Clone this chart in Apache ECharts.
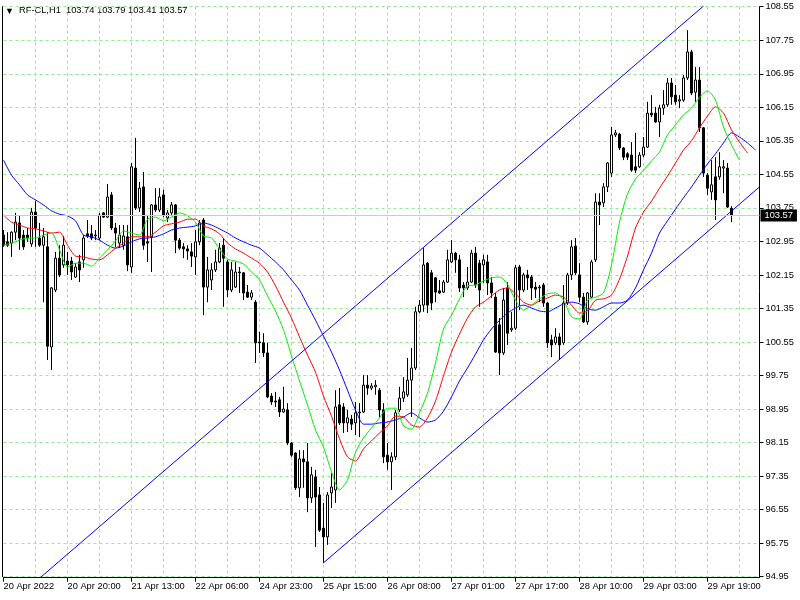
<!DOCTYPE html>
<html><head><meta charset="utf-8">
<script src="https://cdn.jsdelivr.net/npm/echarts@6/dist/echarts.min.js"></script>
<style>html,body{margin:0;padding:0;background:#fff}#c{width:800px;height:600px}</style>
</head><body><div id="c"></div>
<script>
const symbol = 'RF-CL,H1';
const tickLabels = ['20 Apr 2022','20 Apr 20:00','21 Apr 13:00','22 Apr 06:00','24 Apr 23:00','25 Apr 15:00','26 Apr 08:00','27 Apr 01:00','27 Apr 17:00','28 Apr 10:00','29 Apr 03:00','29 Apr 19:00'];
const labelEvery = 16;
const gridEvery = 8;
const barSlots = 190;
const priceMin = 94.95, priceMax = 108.55, priceStep = 0.8;

// hourly candles: [open, close, low, high]
const ohlc = [
[103.10,102.86,102.82,103.22],[102.94,102.86,102.82,103.17],[102.91,103.17,102.58,103.19],[103.17,103.41,102.98,103.63],
[103.39,103.03,102.75,103.58],[103.10,102.82,102.75,103.22],[103.10,103.03,102.94,103.27],[102.89,103.65,102.82,103.75],
[103.65,103.27,102.82,103.91],[103.03,102.86,102.82,103.39],[102.86,103.06,101.50,103.27],[102.82,100.45,100.12,103.17],
[100.43,101.84,99.88,101.86],[101.79,102.55,101.74,102.70],[102.55,102.15,102.10,102.86],[102.39,102.86,102.32,103.08],
[102.48,102.39,102.15,102.70],[102.48,102.22,102.03,102.58],[102.10,102.34,102.08,102.43],[102.46,102.27,101.98,102.63],
[102.51,103.03,102.32,103.10],[103.13,103.08,103.03,103.46],[103.13,103.03,102.98,103.34],[103.08,103.10,102.98,103.22],
[103.03,103.58,102.98,103.63],[103.63,103.53,103.51,103.65],[103.53,104.01,103.51,104.32],[104.06,103.27,103.22,104.13],
[103.27,103.15,102.82,103.39],[102.91,103.10,102.79,103.34],[102.86,103.08,102.75,103.34],[103.06,102.39,102.24,103.34],
[102.34,104.73,102.20,104.82],[104.70,103.75,103.70,105.42],[103.75,104.22,103.65,104.37],[104.25,102.86,102.75,104.61],
[102.94,102.91,102.46,103.58],[103.06,103.82,102.22,103.84],[103.82,103.70,103.65,104.22],[103.70,104.01,103.65,104.22],
[104.06,103.58,103.53,104.18],[103.51,103.63,103.41,103.70],[103.63,103.82,103.58,103.89],[103.82,102.98,102.67,103.84],
[102.98,102.79,102.75,103.03],[102.82,102.77,102.55,102.91],[102.77,102.72,102.51,102.86],[102.70,102.60,102.34,102.91],
[102.58,102.94,102.15,103.22],[102.94,103.39,102.86,103.46],[103.46,101.86,101.19,103.51],[101.86,102.27,101.50,102.58],
[102.03,102.27,101.79,102.43],[102.27,102.46,102.22,102.75],[102.46,102.79,102.43,102.91],[102.86,102.55,101.39,103.03],
[102.46,101.79,101.62,102.51],[101.79,102.27,101.74,102.46],[101.86,102.22,101.84,102.46],[102.22,102.20,101.72,102.34],
[102.20,101.72,101.55,102.22],[101.74,101.62,101.60,101.91],[101.62,101.72,101.55,101.79],[101.50,100.53,100.05,101.55],
[100.55,100.53,100.29,100.79],[100.53,100.29,100.19,100.76],[100.29,99.24,99.21,100.53],[99.26,99.12,99.05,99.33],
[99.14,99.12,99.00,99.36],[99.17,98.88,98.76,99.24],[98.88,98.95,98.86,99.48],[98.93,98.14,98.09,99.09],
[98.14,97.85,97.81,98.16],[97.90,97.07,97.02,97.92],[97.07,97.76,96.85,97.97],[97.76,97.69,97.07,97.97],
[97.69,96.83,96.49,98.14],[96.83,97.38,96.71,97.57],[97.33,96.85,95.66,97.50],[96.90,96.06,96.02,97.09],
[96.11,95.90,95.28,96.71],[95.90,96.90,95.71,96.97],[96.95,97.09,96.59,97.42],[97.02,99.00,96.71,99.40],
[99.05,98.62,98.57,99.45],[99.00,98.62,98.38,99.09],[98.62,98.74,98.40,98.93],[98.71,98.59,98.45,98.81],
[98.62,98.86,98.33,99.12],[98.86,98.88,98.28,99.09],[98.88,99.52,98.86,99.76],[99.52,99.45,99.29,99.76],
[99.45,99.50,99.40,99.57],[99.48,99.52,99.29,99.64],[99.40,98.93,98.76,99.45],[98.93,97.81,97.66,99.09],
[97.85,97.69,97.50,98.14],[97.69,97.81,97.02,97.92],[97.81,98.86,97.73,98.93],[98.93,99.21,98.88,99.48],
[99.21,99.36,99.12,99.71],[99.29,99.64,99.24,100.17],[99.64,99.93,98.76,100.41],[99.93,101.27,99.88,101.39],
[101.27,101.43,101.24,101.55],[101.43,102.39,101.27,102.79],[102.43,101.43,101.24,102.46],[102.20,101.48,101.31,102.27],
[102.08,101.74,101.50,102.10],[101.77,101.72,101.70,102.03],[101.74,101.98,101.72,102.03],[101.98,102.51,101.96,102.75],
[102.46,102.67,102.43,102.98],[102.67,102.51,102.20,102.70],[102.51,101.84,101.74,102.63],[101.91,101.84,101.62,101.98],
[101.84,101.98,101.79,102.34],[101.98,102.67,101.96,102.75],[102.67,101.91,101.84,102.82],[102.43,101.79,101.39,102.51],
[102.39,102.51,101.96,102.63],[102.46,101.96,101.67,102.63],[101.96,101.72,101.60,102.10],[101.62,100.31,100.29,101.72],
[100.96,100.29,99.76,101.12],[100.29,101.55,100.24,101.84],[101.84,100.76,100.48,101.98],[100.84,100.88,100.79,101.27],
[100.88,102.32,100.84,102.39],[102.34,101.79,101.31,102.39],[101.79,102.15,101.74,102.20],[102.15,102.08,101.79,102.27],
[102.10,101.84,101.55,102.15],[101.86,101.81,101.60,101.98],[101.84,101.86,101.50,101.91],[101.91,101.48,101.39,101.96],
[101.48,100.53,100.41,101.50],[100.60,100.48,100.19,100.72],[100.53,100.67,100.48,100.88],[100.67,100.48,100.12,100.76],
[100.53,101.48,100.48,101.91],[101.48,102.15,101.43,102.20],[102.15,102.82,102.03,102.98],[102.84,102.20,102.15,103.03],
[102.15,101.62,101.50,102.43],[101.62,101.03,101.00,101.72],[101.03,101.72,100.96,101.74],[101.62,102.46,101.60,102.51],
[102.51,103.89,102.46,104.10],[103.89,103.82,103.34,104.10],[103.87,104.25,103.77,104.34],[104.25,104.82,104.13,104.84],
[104.58,105.49,104.49,105.68],[105.49,105.54,105.44,105.61],[105.51,105.18,105.13,105.54],[105.18,104.96,104.89,105.20],
[105.04,104.96,104.89,105.08],[105.01,104.65,104.61,105.32],[104.73,104.65,104.58,105.54],[104.73,105.01,104.70,105.08],
[105.01,105.20,104.96,105.44],[105.20,106.01,105.18,106.28],[106.01,105.97,105.92,106.44],[106.01,105.80,105.78,106.16],
[105.80,106.13,105.44,106.21],[106.13,106.21,105.97,106.56],[106.21,106.73,106.16,106.85],[106.73,106.40,106.21,106.85],
[106.44,106.28,106.21,106.68],[106.30,106.33,106.13,106.44],[106.32,106.85,106.28,106.92],[106.85,107.47,106.80,107.99],
[107.47,106.49,106.44,107.52],[106.51,106.80,106.28,107.11],[106.80,105.66,105.56,107.11],[105.66,104.58,104.49,105.68],
[104.53,104.22,104.06,104.58],[104.13,104.30,103.94,104.89],[104.49,103.94,103.46,104.96],[104.49,104.73,104.42,105.08],
[104.70,104.73,104.10,104.89],[104.70,103.77,103.75,104.82],[103.74,103.57,103.41,103.79]
];

// Alligator lines, read every 2 bars starting at bar 0
const lineStep = 2;
const jaw = [104.89,104.53,104.30,104.06,103.94,103.82,103.68,103.60,103.56,103.44,
103.10,103.06,102.98,102.86,102.79,102.84,102.94,103.01,103.03,103.06,
103.13,103.22,103.27,103.29,103.32,103.39,103.34,103.25,103.15,103.03,
102.94,102.86,102.79,102.63,102.46,102.27,102.03,101.79,101.43,101.07,
100.69,100.31,99.88,99.40,98.93,98.59,98.59,98.62,98.64,98.69,
98.76,98.86,98.74,98.64,98.69,98.90,99.24,99.62,99.93,100.26,
100.60,100.86,101.07,101.24,101.36,101.43,101.36,101.29,101.27,101.36,
101.46,101.50,101.46,101.34,101.31,101.39,101.48,101.48,101.55,101.84,
102.27,102.67,103.15,103.44,103.72,103.99,104.25,104.53,104.80,105.04,
105.30,105.54,105.44,105.30,105.13];
const teeth = [103.58,103.41,103.34,103.27,103.25,103.20,103.15,103.17,102.86,102.60,
102.58,102.53,102.51,102.63,102.79,102.91,103.06,103.06,103.06,103.17,
103.32,103.37,103.41,103.48,103.48,103.32,103.25,103.13,102.91,102.77,
102.67,102.55,102.43,102.22,101.89,101.50,101.12,100.67,100.24,99.83,
99.26,98.78,98.24,97.81,97.71,98.00,98.19,98.38,98.55,98.78,
98.76,98.57,98.52,98.74,99.14,99.74,100.31,100.74,101.12,101.39,
101.50,101.65,101.79,101.84,101.70,101.50,101.43,101.53,101.60,101.67,
101.62,101.43,101.24,101.29,101.55,101.58,101.67,102.05,102.60,103.27,
103.65,103.91,104.22,104.51,104.82,105.13,105.35,105.66,105.94,106.16,
106.01,105.61,105.32,105.06];
const lips = [102.86,102.91,102.98,103.03,103.03,103.10,103.15,102.75,102.34,102.43,
102.43,102.36,102.55,102.75,102.96,103.20,103.15,103.10,103.48,103.53,
103.44,103.53,103.63,103.56,103.41,103.08,103.03,102.77,102.53,102.48,
102.41,102.22,102.03,101.65,101.29,100.84,100.22,99.62,99.05,98.45,
98.04,97.45,97.02,97.26,97.92,98.26,98.50,98.74,98.97,98.97,
98.55,98.47,98.86,99.33,100.05,100.86,101.19,101.58,101.89,101.91,
102.01,102.08,102.10,101.93,101.55,101.31,101.43,101.58,101.70,101.72,
101.55,101.15,101.10,101.55,101.62,101.72,102.39,103.41,104.08,104.44,
104.65,104.87,105.08,105.49,105.73,105.97,106.13,106.39,106.54,106.32,
105.68,105.25,104.89];

// equidistant channel: anchor bars and prices
const upperBars = [9.1, 175.9], upperPrices = [94.92, 108.64];
const lowerBars = [80, 189], lowerPrices = [95.28, 104.25];

const last = ohlc[ohlc.length - 1];
const bid = last[1];
const header = symbol + '  ' + [last[0], last[3], last[2], last[1]].map(v => v.toFixed(2)).join(' ');
const cats = Array.from({length: barSlots}, (_, i) => String(i));
const FONT = 'Liberation Sans';
const gridColor = '#90ee90';

const toPts = (arr) => arr.map((v, i) => [i * lineStep, v]);
const pair = (bars, prices) => bars.map((b, i) => [b, prices[i]]);

const chart = echarts.init(document.getElementById('c'));
chart.setOption({
  animation: false,
  backgroundColor: '#ffffff',
  grid: { left: 3.5, right: 40.5, top: 6.7, bottom: 23.3, outerBoundsMode: 'none', containLabel: false },
  graphic: [
    { type: 'text', left: 5, top: 7, style: { text: '\u25BC', fontSize: 9, fill: '#000' } },
    { type: 'text', left: 19, top: 6, style: { text: header, fontSize: 9.3, fontFamily: FONT, fill: '#000' } }
  ],
  xAxis: [
    {
      type: 'category', data: cats, boundaryGap: false, position: 'bottom', offset: 1,
      axisLine: { onZero: false, lineStyle: { color: '#000', width: 1 } },
      axisTick: { interval: (i) => i % labelEvery === 0, length: 4, lineStyle: { color: '#000' } },
      axisLabel: { interval: (i) => i % labelEvery === 0, formatter: (v, i) => tickLabels[i / labelEvery] || '',
        align: 'left', margin: 4, color: '#000', fontSize: 9.3, fontFamily: FONT, hideOverlap: false },
      splitLine: { show: true, interval: (i) => i > 0 && i % gridEvery === 0, lineStyle: { color: gridColor, type: [3, 3], width: 1 } }
    },
    { type: 'value', min: 0, max: barSlots - 1, show: false, position: 'top' }
  ],
  yAxis: [
    {
      type: 'value', position: 'right', min: priceMin, max: priceMax, interval: priceStep,
      axisLine: { show: true, onZero: false, lineStyle: { color: '#000' } },
      axisTick: { show: true, length: 4, lineStyle: { color: '#000' } },
      axisLabel: { formatter: (v) => v.toFixed(2), margin: 6, color: '#000', fontSize: 9.3, fontFamily: FONT },
      splitLine: { show: true, lineStyle: { color: gridColor, type: [3, 3], width: 1 } }
    },
    {
      type: 'value', position: 'left', min: priceMin, max: priceMax, offset: 1,
      axisLine: { show: true, onZero: false, lineStyle: { color: '#000' } },
      axisTick: { show: false }, axisLabel: { show: false }, splitLine: { show: false }
    }
  ],
  series: [
    {
      type: 'candlestick', name: symbol, data: ohlc, xAxisIndex: 0, yAxisIndex: 0,
      barWidth: 2, clip: false,
      itemStyle: { color: '#ffffff', color0: '#000000', borderColor: '#000000', borderColor0: '#000000', borderWidth: 1 }
    },
    { type: 'line', name: 'jaw', data: toPts(jaw), xAxisIndex: 1, yAxisIndex: 0, showSymbol: false, smooth: 0.25,
      lineStyle: { color: '#0000ff', width: 1 } },
    { type: 'line', name: 'teeth', data: toPts(teeth), xAxisIndex: 1, yAxisIndex: 0, showSymbol: false, smooth: 0.25,
      lineStyle: { color: '#ff0000', width: 1 } },
    { type: 'line', name: 'lips', data: toPts(lips), xAxisIndex: 1, yAxisIndex: 0, showSymbol: false, smooth: 0.25,
      lineStyle: { color: '#00ee00', width: 1 },
      markLine: {
        symbol: ['none', 'none'], silent: true, animation: false,
        data: [{ yAxis: bid }],
        lineStyle: { color: '#a8e4a8', type: 'solid', width: 1 },
        label: { show: true, position: 'end', formatter: bid.toFixed(2), color: '#fff', backgroundColor: '#000',
          padding: [2, 4, 1, 4], distance: 1, fontSize: 9.3, fontFamily: FONT }
      }
    },
    { type: 'line', name: 'channelUp', data: pair(upperBars, upperPrices), xAxisIndex: 1, yAxisIndex: 0, showSymbol: false,
      lineStyle: { color: '#0000ff', width: 1 } },
    { type: 'line', name: 'channelLow', data: pair(lowerBars, lowerPrices), xAxisIndex: 1, yAxisIndex: 0, showSymbol: false,
      lineStyle: { color: '#0000ff', width: 1 } }
  ]
});
</script>
</body></html>
